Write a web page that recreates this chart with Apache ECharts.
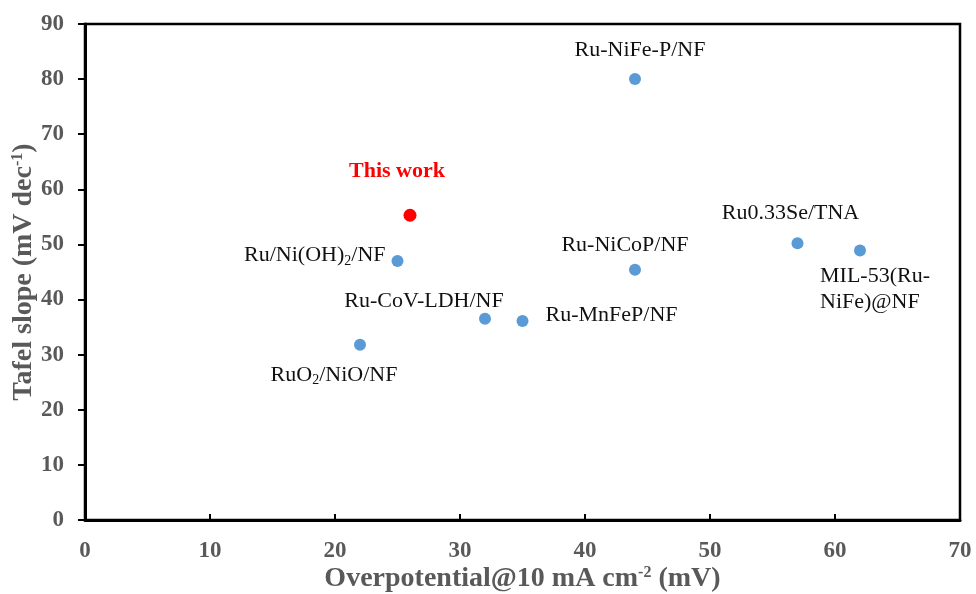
<!DOCTYPE html>
<html>
<head>
<meta charset="utf-8">
<script src="https://cdn.jsdelivr.net/npm/echarts@6/dist/echarts.min.js"></script>
<style>
  html, body { margin: 0; padding: 0; background: #fff; }
  #chart { width: 976px; height: 594px; }
</style>
</head>
<body>
<div id="chart"></div>
<script>
// catalysts, overpotential @10 mA cm-2 (mV), Tafel slope (mV dec-1)
const names = [
  'Ru-NiFe-P/NF',
  'Ru/Ni(OH)2/NF',
  'Ru-NiCoP/NF',
  'Ru0.33Se/TNA',
  'MIL-53(Ru-NiFe)@NF',
  'Ru-CoV-LDH/NF',
  'Ru-MnFeP/NF',
  'RuO2/NiO/NF',
];
const overpotential = [44, 25, 44, 57, 62, 32, 35, 22];
const tafel = [80, 47, 45.4, 50.2, 48.9, 36.5, 36.1, 31.8];

const thisWorkName = 'This work';
const thisWorkX = [26];
const thisWorkY = [55.3];

const xTicks = [0, 10, 20, 30, 40, 50, 60, 70];
const yTicks = [0, 10, 20, 30, 40, 50, 60, 70, 80, 90];

const serif = "'Liberation Serif', 'Times New Roman', serif";
const grey = '#595959';

// how each label is written and where it sits relative to its point
const labelText = {
  'Ru/Ni(OH)2/NF': 'Ru/Ni(OH){sub|2}/NF',
  'RuO2/NiO/NF': 'RuO{sub|2}/NiO/NF',
  'MIL-53(Ru-NiFe)@NF': 'MIL-53(Ru-\nNiFe)@NF',
};
const labelPlace = {
  'Ru-NiFe-P/NF': { align: 'center', offset: [5, -29] },
  'Ru/Ni(OH)2/NF': { align: 'right', offset: [-12, -6] },
  'Ru-NiCoP/NF': { align: 'center', offset: [-10, -25] },
  'Ru0.33Se/TNA': { align: 'center', offset: [-7, -30] },
  'MIL-53(Ru-NiFe)@NF': { align: 'left', offset: [-40, 39] },
  'Ru-CoV-LDH/NF': { align: 'center', offset: [-61, -18] },
  'Ru-MnFeP/NF': { align: 'left', offset: [23, -6] },
  'RuO2/NiO/NF': { align: 'center', offset: [-26, 30] },
};

const chart = echarts.init(document.getElementById('chart'));

const subRich = {
  sub: { fontFamily: serif, fontSize: 14, color: '#111', verticalAlign: 'bottom', padding: [10, 0, 0, 0] },
};
const supRich = {
  sup: { fontFamily: serif, fontSize: 16, fontWeight: 'bold', color: grey, verticalAlign: 'top', padding: [0, 0, 12, 0] },
};

const option = {
  backgroundColor: '#fff',
  animation: false,
  textStyle: { fontFamily: serif },
  grid: {
    left: 85,
    right: 16,
    top: 24,
    bottom: 74,
    outerBoundsMode: 'none',
    containLabel: false,
    show: true,
    borderColor: '#000',
    borderWidth: 2.5,
  },
  xAxis: {
    type: 'value',
    min: xTicks[0],
    max: xTicks[xTicks.length - 1],
    interval: 10,
    name: 'Overpotential@10 mA cm{sup|-2} (mV)',
    nameLocation: 'middle',
    nameGap: 45,
    nameMoveOverlap: false,
    nameTextStyle: {
      fontFamily: serif,
      fontSize: 28,
      fontWeight: 'bold',
      color: grey,
      rich: supRich,
    },
    axisLine: { lineStyle: { color: '#000', width: 3 } },
    axisTick: { inside: true, length: 6, lineStyle: { color: '#000', width: 2 } },
    axisLabel: { margin: 20, fontSize: 23, fontWeight: 'bold', color: grey, fontFamily: serif },
    splitLine: { show: false },
  },
  yAxis: {
    type: 'value',
    min: yTicks[0],
    max: yTicks[yTicks.length - 1],
    interval: 10,
    name: 'Tafel slope (mV dec{sup|-1})',
    nameLocation: 'middle',
    nameGap: 47,
    nameMoveOverlap: false,
    nameTextStyle: {
      fontFamily: serif,
      fontSize: 28,
      fontWeight: 'bold',
      color: grey,
      rich: supRich,
    },
    axisLine: { lineStyle: { color: '#000', width: 3 } },
    axisTick: { length: 7, lineStyle: { color: '#000', width: 2 } },
    axisLabel: { margin: 21, fontSize: 23, fontWeight: 'bold', color: grey, fontFamily: serif },
    splitLine: { show: false },
  },
  series: [
    {
      type: 'scatter',
      symbolSize: 12,
      itemStyle: { color: '#5B9BD5', opacity: 1 },
      data: names.map((n, i) => ({
        name: n,
        value: [overpotential[i], tafel[i]],
        label: {
          show: true,
          formatter: labelText[n] || n,
          position: 'inside',
          align: labelPlace[n].align,
          verticalAlign: 'middle',
          offset: labelPlace[n].offset,
          fontFamily: serif,
          fontSize: 22,
          color: '#111',
          lineHeight: 26,
          rich: subRich,
        },
      })),
      emphasis: { disabled: true },
    },
    {
      type: 'scatter',
      symbolSize: 13,
      itemStyle: { color: '#FF0000', opacity: 1 },
      data: thisWorkX.map((x, i) => ({
        name: thisWorkName,
        value: [x, thisWorkY[i]],
        label: {
          show: true,
          formatter: thisWorkName,
          position: 'inside',
          verticalAlign: 'middle',
          offset: [-13, -44],
          fontFamily: serif,
          fontSize: 22,
          fontWeight: 'bold',
          color: '#FF0000',
        },
      })),
      emphasis: { disabled: true },
    },
  ],
};

chart.setOption(option);
</script>
</body>
</html>
